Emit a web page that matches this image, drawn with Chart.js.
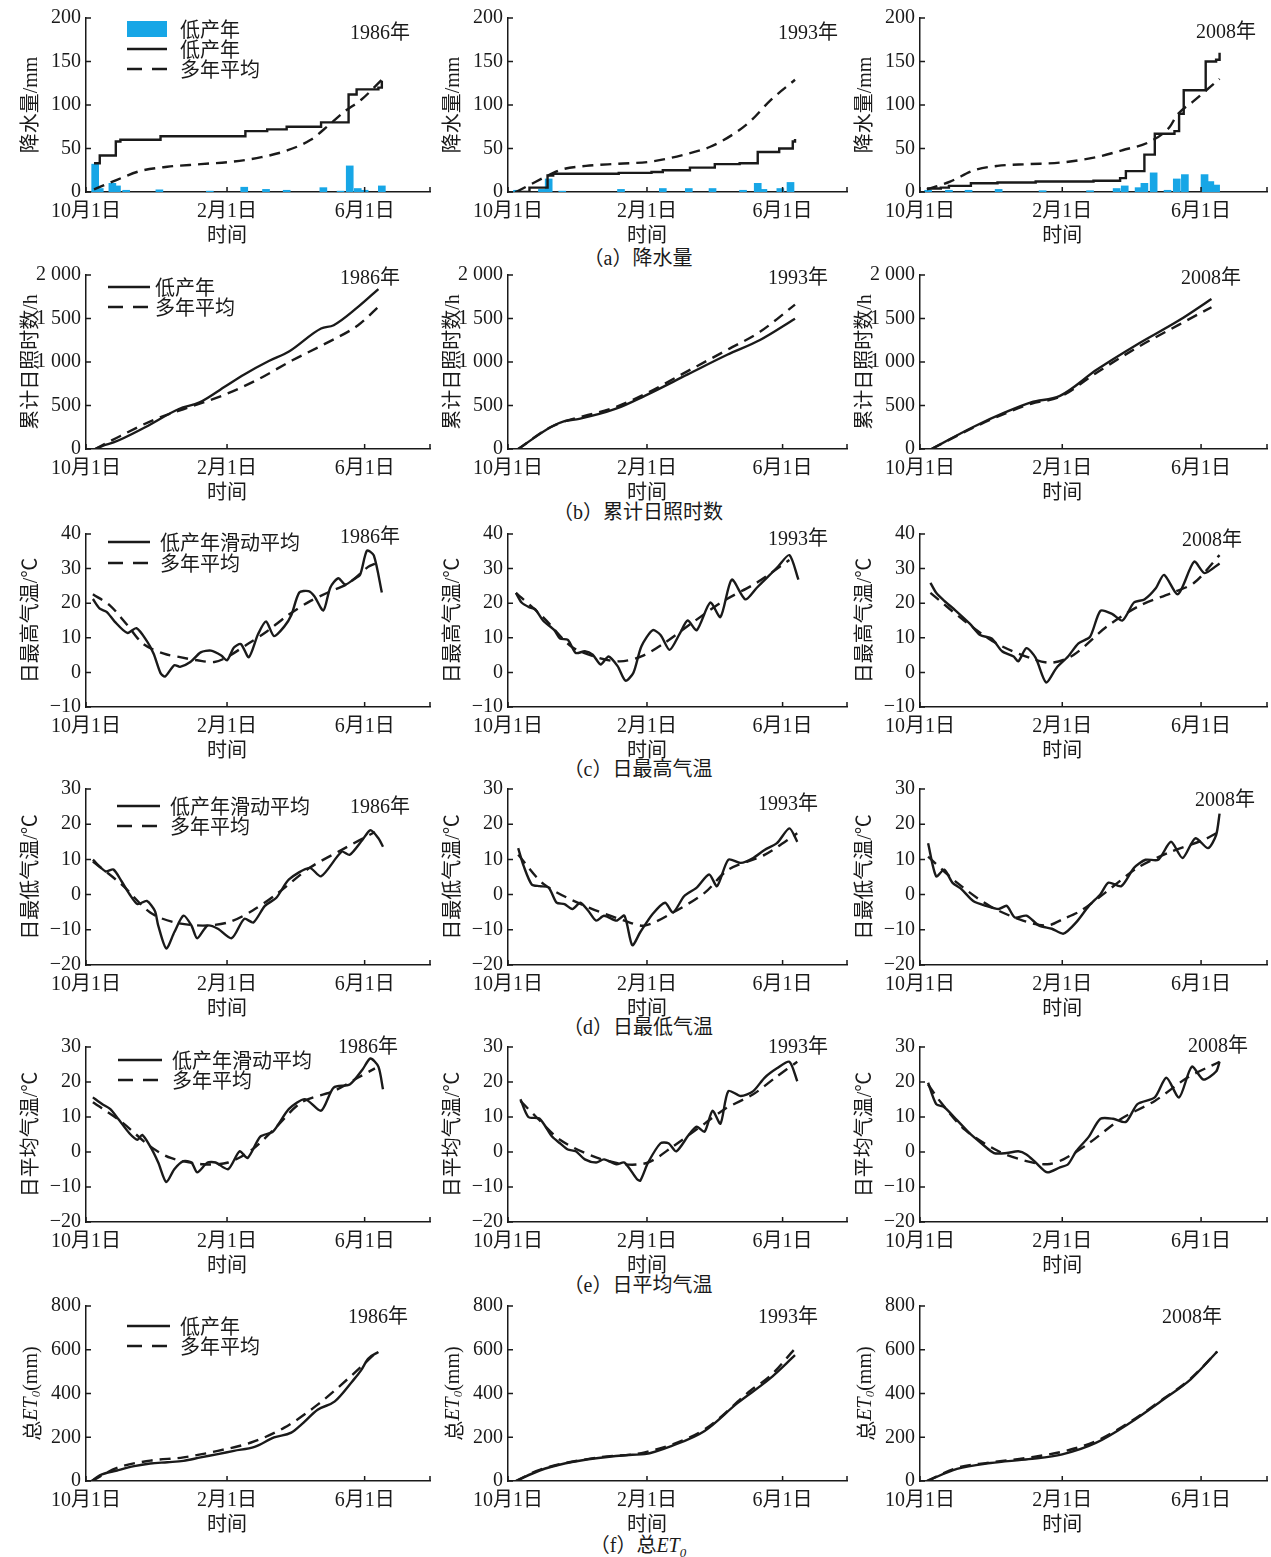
<!DOCTYPE html>
<html lang="zh-CN">
<head>
<meta charset="UTF-8" />
<title>低产年气象要素与多年平均对比</title>
<style>
  body { margin: 0; background: #fff; }
  #page { position: relative; width: 1271px; height: 1557px; overflow: hidden; }
  #page canvas { position: absolute; }
  .cap {
    position: absolute; left: 438px; width: 400px; text-align: center;
    font: 20px "Liberation Serif", "Noto Sans CJK SC", serif; color: #1a1a1a; line-height: 24px;
  }
  .cap i { font-family: "Liberation Serif", serif; }
  .cap sub { font-size: 13px; font-style: italic; line-height: 0; font-family: "Liberation Serif", serif; }
</style>
</head>
<body>
<div id="page">
  <div class="cap" style="top:246px">（a）降水量</div>
  <div class="cap" style="top:500px">（b）累计日照时数</div>
  <div class="cap" style="top:757px">（c）日最高气温</div>
  <div class="cap" style="top:1015px">（d）日最低气温</div>
  <div class="cap" style="top:1273px">（e）日平均气温</div>
  <div class="cap" style="top:1533px">（f）总<i>ET</i><sub>0</sub></div>
</div>
<script src="https://cdn.jsdelivr.net/npm/chart.js"></script>
<script>
// x = days after 10月1日
const xTickDays = [0, 123, 243];
const xTickLabels = ["10月1日", "2月1日", "6月1日"];
const xEnd = 300;
const years = ["1986年", "1993年", "2008年"];

// (a) 降水量 [day, mm]
const rainBar1986 = [[8,32],[12,4],[23,10],[27,7],[35,2],[64,2.5],[108,1],[138,5.5],[157,3],[175,2],[207,5],[222,1],[230,30],[237,4],[243,2],[258,7]];
const rainLow1986 = [[7,33],[12,42],[26,58],[30,60],[65,64],[139,70],[158,72],[175,75],[205,80],[229,112],[236,118],[255,120],[258,128]];
const rainAvg1986 = [[7,3],[27,14],[47,24],[71,29],[100,32],[129,35],[153,40],[176,48],[196,60],[211,76],[226,93],[240,106],[258,129]];
const rainBar1993 = [[8,2],[30,3],[36,15],[48,1],[100,3],[137,4],[160,4],[181,4],[208,2],[221,10],[226,3],[241,4],[250,11]];
const rainLow1993 = [[6,0],[19,5],[35,19],[40,21],[98,22],[127,23],[137,25],[161,28],[183,32],[205,33],[221,46],[240,50],[252,58],[254,61]];
const rainAvg1993 = [[7,0],[19,8],[37,20],[48,26],[69,30],[98,32.5],[127,35],[156,43],[179,52],[200,67],[215,82],[232,105],[254,129]];
const rainBar2008 = [[7,2],[25,2],[42,2],[68,3],[106,1.5],[147,1.5],[170,4],[177,7],[189,5],[194,10],[202,22],[214,2],[222,15],[229,20],[246,20],[251,12],[256,8]];
const rainLow2008 = [[6,4],[18,5],[25,7],[44,10],[67,11],[100,12],[150,13],[173,16],[178,24],[194,43],[203,67],[220,70],[224,90],[228,117],[247,150],[256,152],[259,160]];
const rainAvg2008 = [[6,3],[26,12],[47,25],[67,30],[94,32],[123,34],[152,40],[175,48],[199,58],[216,75],[222,88],[237,105],[259,130]];

// (b) 累计日照时数 [day, h]
const sunLow1986 = [[8,0],[15,40],[24,75],[52,253],[81,460],[99,536],[122,725],[138,857],[159,1008],[177,1120],[205,1385],[216,1423],[237,1630],[255,1838]];
const sunAvg1986 = [[8,0],[30,150],[60,340],[90,480],[122,630],[150,800],[180,1020],[210,1220],[237,1420],[256,1645]];
const sunLow1993 = [[9,0],[38,253],[50,320],[63,347],[95,460],[121,611],[159,857],[194,1083],[223,1253],[254,1498]];
const sunAvg1993 = [[9,0],[38,253],[95,480],[121,630],[159,895],[194,1140],[223,1347],[254,1660]];
const sunLow2008 = [[10,0],[46,253],[74,423],[96,536],[121,611],[153,913],[187,1196],[224,1479],[252,1725]];
const sunAvg2008 = [[10,0],[46,245],[74,410],[96,520],[121,600],[153,880],[187,1160],[224,1430],[252,1630]];

// (c) 日最高气温 [day, ℃]
const tmaxLow1986 = [[6,21.2],[12,18.4],[18,17.5],[25,14.7],[36,11.4],[44,12.8],[53,9.1],[59,5.4],[65,-0.2],[69,-1.2],[77,2.1],[82,1.6],[91,3.0],[100,5.8],[109,6.3],[118,4.9],[123,3.5],[129,7.2],[135,8.2],[142,4.4],[150,11.0],[157,14.7],[164,10.5],[173,13.3],[179,16.5],[186,23.1],[194,23.5],[199,22.1],[207,17.9],[213,24.5],[220,27.2],[226,25.4],[233,26.8],[239,28.2],[245,35.2],[251,33.8],[258,23.1]];
const tmaxAvg1986 = [[6,22.6],[21,19.3],[36,13.7],[50,8.2],[68,5.4],[82,4.4],[97,3.5],[112,3.0],[123,4.4],[141,8.2],[158,11.9],[176,16.5],[194,20.3],[211,23.1],[229,25.8],[246,30.5],[252,31.4]];
const tmaxLow1993 = [[7,23.0],[12,20.2],[19,18.8],[24,18.3],[31,15.0],[41,12.2],[46,9.8],[53,9.4],[60,5.6],[68,6.1],[75,5.1],[82,2.3],[89,4.6],[97,1.8],[104,-2.4],[111,-0.1],[118,7.5],[128,12.2],[135,10.8],[143,6.5],[152,11.2],[159,15.0],[167,12.2],[179,20.2],[188,16.0],[198,26.8],[210,21.1],[220,24.4],[229,27.3],[239,30.6],[249,33.9],[257,26.8]];
const tmaxAvg1993 = [[7,23],[31,16],[56,7.5],[80,4.2],[99,3.2],[118,4.6],[138,8.4],[162,14.1],[191,20.7],[220,25.9],[249,32.5]];
const tmaxLow2008 = [[9,25.9],[14,23.0],[21,20.7],[31,17.8],[43,14.1],[52,10.8],[62,9.8],[71,6.1],[81,4.6],[85,3.2],[92,7.0],[100,4.2],[109,-2.9],[118,1.3],[128,4.6],[137,8.4],[147,10.3],[156,17.8],[166,16.9],[175,15.0],[185,20.2],[194,21.1],[204,24.4],[211,28.2],[223,22.6],[237,32.0],[246,28.7],[259,31.5]];
const tmaxAvg2008 = [[9,23],[38,15],[66,8.4],[95,4.2],[114,2.8],[133,5.1],[161,13.1],[190,19.3],[218,23.0],[237,25.9],[259,33.9]];

// (d) 日最低气温 [day, ℃]
const tminLow1986 = [[6,9.9],[17,6.6],[24,7.1],[31,3.8],[38,0.1],[45,-2.7],[53,-1.8],[60,-4.6],[63,-8.8],[70,-15.3],[77,-10.7],[85,-6.0],[92,-8.8],[97,-12.4],[106,-8.8],[115,-9.7],[127,-12.4],[138,-6.9],[146,-7.9],[156,-3.2],[166,-0.9],[177,4.3],[195,7.6],[205,5.2],[223,12.2],[230,11.3],[241,15.5],[248,18.3],[255,16.0],[259,13.6]];
const tminAvg1986 = [[6,9.4],[31,2.9],[56,-5.1],[77,-7.9],[102,-8.8],[124,-7.9],[145,-4.6],[166,0.1],[195,7.6],[223,12.7],[252,17.8]];
const tminLow1993 = [[9,13.2],[14,8.0],[21,2.9],[28,2.4],[36,2.0],[43,-2.3],[50,-2.7],[57,-4.1],[64,-2.3],[71,-4.6],[78,-7.4],[85,-6.0],[96,-7.4],[103,-6.0],[110,-14.4],[117,-10.7],[128,-5.5],[139,-2.3],[146,-5.1],[156,-0.4],[167,2.0],[178,5.7],[185,2.4],[195,9.9],[206,9.0],[217,10.4],[227,12.7],[238,14.6],[249,18.8],[256,15.0]];
const tminAvg1993 = [[9,11.3],[32,2.9],[68,-3.2],[103,-7.4],[121,-8.8],[146,-5.1],[174,0.5],[195,7.1],[227,11.3],[256,17.4]];
const tminLow2008 = [[7,14.6],[14,5.2],[21,7.1],[28,3.4],[36,1.5],[46,-1.8],[57,-3.2],[68,-4.1],[75,-3.2],[82,-6.5],[92,-6.0],[103,-8.8],[114,-9.7],[124,-11.1],[135,-7.9],[146,-3.2],[156,0.1],[163,3.4],[174,2.4],[185,7.6],[195,9.9],[206,9.9],[217,15.0],[227,10.4],[238,16.0],[249,13.2],[256,16.9],[259,23.0]];
const tminAvg2008 = [[7,10.8],[32,3.4],[60,-3.2],[89,-7.4],[110,-8.8],[124,-6.9],[139,-4.6],[160,0.5],[188,7.6],[217,12.2],[245,15.5],[256,17.4]];

// (e) 日平均气温 [day, ℃]
const tmeanLow1986 = [[6,15.6],[14,13.7],[21,12.3],[28,9.5],[38,5.3],[45,3.5],[49,4.9],[56,1.6],[63,-3.0],[70,-8.6],[77,-4.9],[85,-2.6],[92,-3.0],[97,-5.8],[106,-3.0],[113,-3.0],[124,-4.9],[134,0.2],[141,-1.7],[152,4.4],[163,5.8],[177,12.3],[191,15.1],[205,11.8],[216,18.4],[230,19.3],[241,23.5],[248,26.7],[255,24.4],[259,17.9]];
const tmeanAvg1986 = [[6,14.2],[31,8.6],[56,1.6],[74,-1.7],[102,-3.5],[124,-3.0],[145,0.7],[166,7.2],[188,14.2],[216,17.4],[237,21.2],[252,23.9]];
const tmeanLow1993 = [[11,15.1],[18,10.0],[28,9.5],[39,4.4],[46,2.5],[53,0.7],[60,0.2],[68,-2.1],[78,-3.0],[85,-2.1],[96,-3.5],[103,-3.0],[114,-7.7],[117,-8.2],[124,-3.0],[135,2.5],[142,2.5],[149,0.2],[160,4.9],[167,7.2],[174,5.8],[181,11.8],[188,8.1],[195,17.4],[206,16.0],[217,17.4],[227,21.2],[238,23.9],[249,25.8],[256,20.2]];
const tmeanAvg1993 = [[11,14.6],[25,10.0],[46,3.5],[75,-1.2],[103,-3.5],[124,-3.0],[146,1.6],[174,8.1],[192,12.3],[217,16.5],[238,21.6],[256,25.8]];
const tmeanLow2008 = [[7,19.8],[14,13.7],[21,12.8],[32,9.1],[43,5.3],[53,2.5],[64,-0.3],[75,-0.3],[85,0.2],[92,-0.7],[100,-3.0],[110,-5.8],[121,-4.4],[128,-3.5],[135,0.2],[146,4.4],[156,9.5],[167,9.5],[178,8.6],[188,13.7],[203,15.6],[213,21.2],[224,15.6],[235,24.4],[245,20.7],[256,23.0],[259,25.8]];
const tmeanAvg2008 = [[7,19.3],[18,14.2],[39,6.3],[68,0.2],[92,-2.6],[110,-3.5],[124,-2.1],[146,2.5],[174,9.5],[203,14.6],[231,21.2],[259,25.8]];

// (f) 总ET0 [day, mm]
const et0Low1986 = [[5,0],[12,26],[27,48],[42,68],[56,80],[71,86],[85,92],[100,108],[115,123],[129,138],[147,156],[164,199],[179,221],[188,259],[202,326],[217,364],[232,454],[240,507],[246,559],[255,590]];
const et0Avg1986 = [[5,0],[27,60],[56,93],[85,108],[115,138],[144,176],[173,244],[202,349],[232,484],[255,597]];
const et0Low1993 = [[7,0],[28,48],[51,81],[80,105],[110,120],[121,123],[145,161],[174,229],[203,356],[232,469],[254,575]];
const et0Avg1993 = [[7,0],[28,51],[80,108],[121,131],[174,236],[215,415],[232,480],[254,605]];
const et0Low2008 = [[6,0],[32,55],[61,82],[94,100],[123,122],[152,174],[181,264],[211,375],[234,465],[257,592]];
const et0Avg2008 = [[6,0],[32,60],[61,85],[94,107],[123,134],[152,182],[181,268],[211,378],[234,468],[257,592]];

// ---- layout & style ----
const ink = "#1a1a1a";
const barColor = "#17a6e6";
const mixFont = '20px "Liberation Serif", "Noto Sans CJK SC", serif';
const cjkFont = '20px "Noto Sans CJK SC", sans-serif';
const colLeft = [86, 508, 920];
const colRight = [430, 847, 1267];
const rowTop = [15, 272, 531, 786, 1044, 1303];
const rowBottom = [192, 449, 707, 965, 1222, 1481];
const padTop = 14, axisW = 86, axisH = 56, padRight = 8;
const yearPos = [
  [[-20, 16], [-9, 16], [-11, 15]],
  [[-30, 4], [-19, 4], [-26, 4]],
  [[-30, 4], [-19, 6], [-25, 7]],
  [[-20, 19], [-29, 16], [-12, 12]],
  [[-32, 1], [-19, 1], [-19, 0]],
  [[-22, 12], [-29, 12], [-45, 12]]
];

const rows = [
  { yTitle: [["降水量/mm", mixFont, 0]], min: 0, max: 200, step: 50, kind: "rain",
    low: [rainLow1986, rainLow1993, rainLow2008], avg: [rainAvg1986, rainAvg1993, rainAvg2008],
    bars: [rainBar1986, rainBar1993, rainBar2008],
    legend: [["bar", "低产年"], ["solid", "低产年"], ["dash", "多年平均"]], legendAt: [41, 11, 20, 40, 94] },
  { yTitle: [["累计日照时数/h", mixFont, 0]], min: 0, max: 2000, step: 500, kind: "cum",
    low: [sunLow1986, sunLow1993, sunLow2008], avg: [sunAvg1986, sunAvg1993, sunAvg2008],
    legend: [["solid", "低产年"], ["dash", "多年平均"]], legendAt: [22, 12, 20, 42, 69] },
  { yTitle: [["日最高气温/℃", mixFont, 0]], min: -10, max: 40, step: 10, kind: "temp",
    low: [tmaxLow1986, tmaxLow1993, tmaxLow2008], avg: [tmaxAvg1986, tmaxAvg1993, tmaxAvg2008],
    legend: [["solid", "低产年滑动平均"], ["dash", "多年平均"]], legendAt: [22, 8, 21, 42, 74] },
  { yTitle: [["日最低气温/℃", mixFont, 0]], min: -20, max: 30, step: 10, kind: "temp",
    low: [tminLow1986, tminLow1993, tminLow2008], avg: [tminAvg1986, tminAvg1993, tminAvg2008],
    legend: [["solid", "低产年滑动平均"], ["dash", "多年平均"]], legendAt: [31, 17, 20, 43, 84] },
  { yTitle: [["日平均气温/℃", mixFont, 0]], min: -20, max: 30, step: 10, kind: "temp",
    low: [tmeanLow1986, tmeanLow1993, tmeanLow2008], avg: [tmeanAvg1986, tmeanAvg1993, tmeanAvg2008],
    legend: [["solid", "低产年滑动平均"], ["dash", "多年平均"]], legendAt: [32, 13, 20, 44, 86] },
  { yTitle: [["总", cjkFont, 0], ["ET", 'italic 20px "Liberation Serif", serif', 0], ["0", 'italic 13px "Liberation Serif", serif', 5], ["(mm)", '20px "Liberation Serif", serif', 0]],
    min: 0, max: 800, step: 200, kind: "cum",
    low: [et0Low1986, et0Low1993, et0Low2008], avg: [et0Avg1986, et0Avg1993, et0Avg2008],
    legend: [["solid", "低产年"], ["dash", "多年平均"]], legendAt: [41, 20, 20, 43, 94] }
];

const pts = arr => arr.map(p => ({ x: p[0], y: p[1] }));
const fmtY = v => v < 0 ? "\u2212" + Math.abs(v)
  : v >= 1000 ? Math.floor(v / 1000) + " " + String(v % 1000).padStart(3, "0") : String(v);

function drawParts(ctx, parts, cx, cy) {
  let total = 0;
  parts.forEach(p => { ctx.font = p[1]; total += ctx.measureText(p[0]).width; });
  ctx.save();
  ctx.translate(cx, cy);
  ctx.rotate(-Math.PI / 2);
  ctx.textAlign = "left";
  ctx.textBaseline = "middle";
  let x = -total / 2;
  parts.forEach(p => {
    ctx.font = p[1];
    ctx.fillText(p[0], x, p[2]);
    x += ctx.measureText(p[0]).width;
  });
  ctx.restore();
}

const decor = {
  id: "decor",
  afterDraw(chart, args, o) {
    const { ctx, chartArea: a, scales: { x, y } } = chart;
    ctx.save();
    ctx.strokeStyle = ink;
    ctx.fillStyle = ink;
    ctx.lineWidth = 1.5;
    // inward tick marks
    ctx.beginPath();
    x.ticks.forEach(t => { const px = x.getPixelForValue(t.value); ctx.moveTo(px, a.bottom); ctx.lineTo(px, a.bottom - 5); });
    y.ticks.forEach(t => { const py = y.getPixelForValue(t.value); ctx.moveTo(a.left, py); ctx.lineTo(a.left + 5, py); });
    ctx.stroke();
    ctx.font = mixFont;
    ctx.textBaseline = "middle";
    ctx.textAlign = "right";
    ctx.fillText(o.year, a.right + o.yearAt[0], a.top + o.yearAt[1]);
    ctx.textAlign = "center";
    ctx.font = cjkFont;
    ctx.fillText("时间", x.getPixelForValue(xTickDays[1]), a.bottom + 42);
    drawParts(ctx, o.yTitle, a.left - 54, (a.top + a.bottom) / 2);
    if (o.legend) {
      const [lx, ly, gap, len, tx] = o.legendAt;
      o.legend.forEach(([kind, text], i) => {
        const yy = a.top + ly + i * gap;
        if (kind === "bar") {
          ctx.fillStyle = barColor;
          ctx.fillRect(a.left + lx, yy - 8, len, 16);
        } else {
          ctx.setLineDash(kind === "dash" ? [15, 10] : []);
          ctx.lineWidth = 2.6;
          ctx.beginPath();
          ctx.moveTo(a.left + lx, yy);
          ctx.lineTo(a.left + lx + len, yy);
          ctx.stroke();
          ctx.setLineDash([]);
        }
        ctx.fillStyle = ink;
        ctx.font = cjkFont;
        ctx.textAlign = "left";
        ctx.fillText(text, a.left + tx, yy);
      });
    }
    ctx.restore();
  }
};

const page = document.getElementById("page");

rows.forEach((row, r) => {
  years.forEach((year, c) => {
    const cv = document.createElement("canvas");
    cv.width = colRight[c] - colLeft[c] + axisW + padRight;
    cv.height = rowBottom[r] - rowTop[r] + padTop + axisH;
    cv.style.left = (colLeft[c] - axisW) + "px";
    cv.style.top = (rowTop[r] - padTop) + "px";
    page.appendChild(cv);

    const lineOpts = row.kind === "rain" ? { stepped: true }
      : row.kind === "temp" ? { tension: 0.25 } : { cubicInterpolationMode: "monotone" };
    const avgOpts = row.kind === "temp" ? { tension: 0.3 } : { cubicInterpolationMode: "monotone" };

    const datasets = [];
    if (row.bars) {
      datasets.push({ type: "bar", data: pts(row.bars[c]), backgroundColor: barColor,
        borderWidth: 0, barThickness: 7, order: 5 });
    }
    datasets.push(Object.assign({ type: "line", data: pts(row.low[c]), borderColor: ink,
      borderWidth: 2.4, pointRadius: 0, fill: false, order: 1 }, lineOpts));
    datasets.push(Object.assign({ type: "line", data: pts(row.avg[c]), borderColor: ink,
      borderWidth: 2.4, borderDash: [11, 7], pointRadius: 0, fill: false, order: 2 }, avgOpts));

    new Chart(cv, {
      type: "line",
      data: { datasets },
      options: {
        responsive: false,
        animation: false,
        layout: { padding: { top: padTop, right: padRight, left: 0, bottom: 0 } },
        plugins: {
          legend: { display: false },
          tooltip: { enabled: false },
          decor: {
            year, yearAt: yearPos[r][c], yTitle: row.yTitle,
            legend: c === 0 ? row.legend : null, legendAt: row.legendAt
          }
        },
        scales: {
          x: {
            type: "linear", min: 0, max: xEnd, offset: false,
            grid: { display: false, drawTicks: false },
            border: { display: true, color: ink, width: 1.5 },
            ticks: {
              autoSkip: false, maxRotation: 0, padding: 8, color: ink,
              font: { family: '"Liberation Serif", "Noto Sans CJK SC", serif', size: 20 },
              callback: v => { const i = xTickDays.indexOf(v); return i >= 0 ? xTickLabels[i] : ""; }
            },
            afterBuildTicks: s => { s.ticks = xTickDays.concat([xEnd]).map(v => ({ value: v })); },
            afterFit: s => { s.height = axisH; }
          },
          y: {
            type: "linear", min: row.min, max: row.max,
            grid: { display: false, drawTicks: false },
            border: { display: true, color: ink, width: 1.5 },
            ticks: {
              stepSize: row.step, padding: 5, color: ink,
              font: { family: '"Liberation Serif", serif', size: 20 },
              callback: v => fmtY(v)
            },
            afterFit: s => { s.width = axisW; }
          }
        }
      },
      plugins: [decor]
    });
  });
});
</script>
</body>
</html>
